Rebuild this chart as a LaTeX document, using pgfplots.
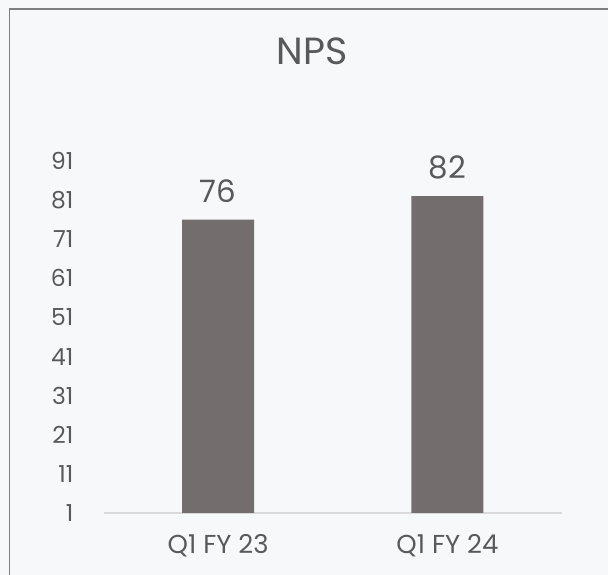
\documentclass[border=0pt]{standalone}
\usepackage{pgfplots}
\pgfplotsset{compat=1.18}
\usepackage{fontspec}
\setmainfont{Poppins}
\definecolor{bg}{HTML}{F7F8FA}
\definecolor{barc}{HTML}{736E6D}
\definecolor{txt}{HTML}{595959}
\definecolor{frame}{HTML}{7F7F7F}
\definecolor{base}{HTML}{D9D9D9}
\begin{document}
\begin{tikzpicture}[x=1bp,y=1bp]
\path[use as bounding box, fill=bg] (0,0) rectangle (608,575);
\draw[frame, line width=1.6bp] (9.5,0) -- (9.5,566) -- (608,566);
\node[txt, font=\fontsize{38}{42}\selectfont, anchor=base, inner sep=0] at (312,510.5) {NPS};
\begin{axis}[
  at={(103.5bp,62bp)}, anchor=south west,
  scale only axis, width=458.5bp, height=352bp,
  xmin=-0.5, xmax=1.5, ymin=1, ymax=91,
  ytick={1,11,21,31,41,51,61,71,81,91},
  xtick={0,1}, xticklabels={Q1 FY 23, Q1 FY 24},
  axis lines*=left,
  x axis line style={draw=base, line width=1.2bp, -},
  y axis line style={draw=none},
  major tick length=0pt,
  tick label style={txt},
  yticklabel style={font=\fontsize{23.5}{26}\selectfont, anchor=east, inner sep=0pt, xshift=-30bp},
  xticklabel style={font=\fontsize{26}{28}\selectfont, anchor=base, inner sep=0pt, yshift=-40bp},
  /pgf/number format/assume math mode=true,
  clip=false,
  ybar, bar width=72bp, bar shift=0pt,
  nodes near coords,
  every node near coord/.append style={txt, font=\fontsize{31}{34}\selectfont, anchor=base, inner sep=0pt, yshift=17.5bp},
]
\addplot[fill=barc, draw=none] coordinates {(0,76) (1,82)};
\end{axis}
\end{tikzpicture}
\end{document}
